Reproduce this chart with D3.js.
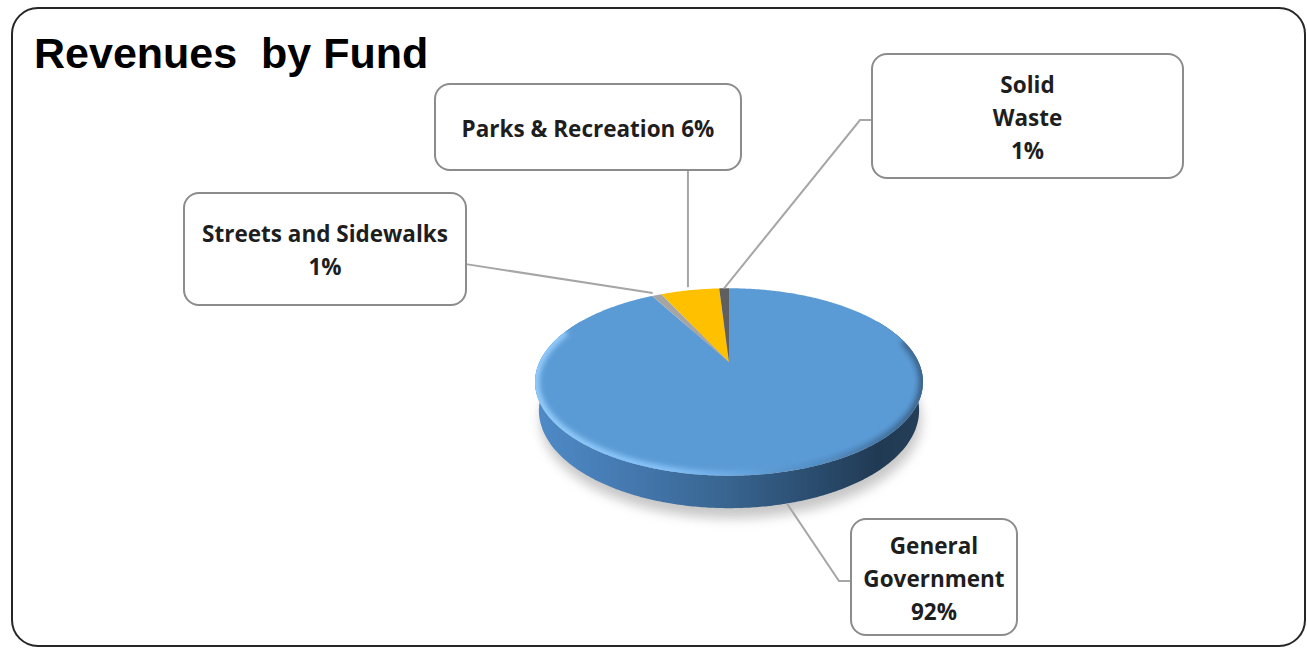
<!DOCTYPE html>
<html>
<head>
<meta charset="utf-8">
<script src="https://cdn.jsdelivr.net/npm/d3@7"></script>
<style>
  html, body { margin: 0; padding: 0; background: #ffffff; }
  svg { display: block; }
</style>
</head>
<body>
<svg id="chart" width="1307" height="648"></svg>
<script>
// Revenue shares by fund (percent)
const categories = ["General Government", "Streets and Sidewalks", "Parks & Recreation", "Solid Waste"];
const values = [92, 1, 6, 1];
const colors = ["#5B9BD5", "#A5A5A5", "#FFC000", "#5F5F5F"];
const labelLines = [
  ["General", "Government", "92%"],
  ["Streets and Sidewalks", "1%"],
  ["Parks & Recreation 6%"],
  ["Solid", "Waste", "1%"]
];
const title = "Revenues  by Fund";

// Callout boxes: [x, y, w, h] and the side of the box the leader leaves from
const boxes = [
  { x: 851, y: 519, w: 166, h: 116, side: "left" },
  { x: 184, y: 193, w: 282, h: 112, side: "right" },
  { x: 435, y: 84,  w: 306, h: 86,  side: "bottom" },
  { x: 872, y: 54,  w: 311, h: 124, side: "left" }
];

const svg = d3.select("#chart");
const defs = svg.append("defs");

// Outer chart frame
svg.append("rect")
  .attr("x", 12).attr("y", 8).attr("width", 1293).attr("height", 638)
  .attr("rx", 26).attr("ry", 26)
  .attr("fill", "#ffffff").attr("stroke", "#262626").attr("stroke-width", 2);

svg.append("text")
  .attr("x", 34).attr("y", 68)
  .style("white-space", "pre")
  .attr("font-family", "'Liberation Sans', Arial, sans-serif")
  .attr("font-weight", "bold").attr("font-size", 43)
  .attr("fill", "#000000")
  .text(title);

// ---- 3D pie projection (tilted disk with perspective) ----
const cx = 729, cy = 362, R = 189.5;
const sinT = 0.472, cosT = 0.882, D = 4.14, T = 0.17;

function proj(X, Z, h) {
  const depth = Z * cosT + h * sinT;
  const p = D / (D - depth);
  return [cx + R * X * p, cy + R * (Z * sinT - h * cosT) * p];
}
// angle measured clockwise from 12 o'clock (back of the disk)
function rim(a, h) { return proj(Math.sin(a), -Math.cos(a), h); }
function rimPoints(a0, a1, h) {
  const n = Math.max(2, Math.ceil(Math.abs(a1 - a0) / 0.01));
  return d3.range(n + 1).map(i => rim(a0 + (a1 - a0) * i / n, h));
}
const line = d3.line();

const pie = d3.pie().sort(null).value(d => d);
const arcs = pie(values);

// Filters and gradients
const blur = defs.append("filter").attr("id", "shadowBlur")
  .attr("x", "-20%").attr("y", "-20%").attr("width", "140%").attr("height", "140%");
blur.append("feGaussianBlur").attr("stdDeviation", 6);

const soft = defs.append("filter").attr("id", "softBlur")
  .attr("x", "-10%").attr("y", "-10%").attr("width", "120%").attr("height", "120%");
soft.append("feGaussianBlur").attr("stdDeviation", 2.5);

const sideGrad = defs.append("linearGradient").attr("id", "sideGrad")
  .attr("gradientUnits", "userSpaceOnUse")
  .attr("x1", cx - 195).attr("x2", cx + 195).attr("y1", 0).attr("y2", 0);
[[0, "#4F8BC8"], [0.25, "#4478AE"], [0.5, "#38648F"], [0.72, "#2A4C6E"], [0.88, "#213A54"], [1, "#263F59"]]
  .forEach(([o, c]) => sideGrad.append("stop").attr("offset", o).attr("stop-color", c));

const rimGrad = defs.append("linearGradient").attr("id", "rimGrad")
  .attr("gradientUnits", "userSpaceOnUse")
  .attr("x1", cx - 195).attr("x2", cx + 195).attr("y1", 0).attr("y2", 0);
[[0, "#9AD2FF", 0.9], [0.35, "#8CC8FF", 0.85], [0.55, "#8CC8FF", 0.2], [0.7, "#1E3550", 0.1], [1, "#1E3550", 0.55]]
  .forEach(([o, c, a]) => rimGrad.append("stop").attr("offset", o).attr("stop-color", c).attr("stop-opacity", a));

// Shadow under the pie
const bottomRim = rimPoints(0, 2 * Math.PI, -T);
svg.append("path")
  .attr("d", line(bottomRim) + "Z")
  .attr("transform", "translate(2,10)")
  .attr("fill", "#8f8f8f").attr("opacity", 0.5)
  .attr("filter", "url(#shadowBlur)");

// Side wall (front part of the disk)
const a0 = Math.PI / 3, a1 = 5 * Math.PI / 3;
const sideTop = rimPoints(a0, a1, 0);
const sideBot = rimPoints(a1, a0, -T);
svg.append("path")
  .attr("d", line(sideTop.concat(sideBot)) + "Z")
  .attr("fill", "url(#sideGrad)");

// Top face slices
const apex = proj(0, 0, 0);
const topG = svg.append("g");
topG.selectAll("path.slice")
  .data(arcs)
  .join("path")
  .attr("class", "slice")
  .attr("d", d => line([apex].concat(rimPoints(d.startAngle, d.endAngle, 0))) + "Z")
  .attr("fill", (d, i) => colors[i]);

// Bevel highlight along the front rim of the top face
const topOutline = rimPoints(0, 2 * Math.PI, 0);
defs.append("clipPath").attr("id", "topClip")
  .append("path").attr("d", line(topOutline) + "Z");
svg.append("path")
  .attr("d", line(rimPoints(Math.PI * 0.42, Math.PI * 1.62, 0)))
  .attr("fill", "none")
  .attr("stroke", "url(#rimGrad)").attr("stroke-width", 9)
  .attr("clip-path", "url(#topClip)")
  .attr("filter", "url(#softBlur)");

// ---- Callouts ----
const anchors = arcs.map((d, i) => {
  const mid = (d.startAngle + d.endAngle) / 2;
  return i === 0 ? rim(mid, -T) : rim(mid, 0);
});

const callG = svg.append("g");
boxes.forEach((b, i) => {
  const [ax, ay] = anchors[i];
  let pts;
  if (b.side === "left") {
    const sy = b.y + b.h / 2 + 4;
    pts = [[b.x, sy], [b.x - 12, sy], [ax, ay]];
  } else if (b.side === "right") {
    const sy = b.y + b.h * 0.635;
    pts = [[b.x + b.w, sy], [ax - 4, ay - 2]];
  } else {
    pts = [[ax - 2, b.y + b.h], [ax - 2, ay - 3]];
  }
  callG.append("path")
    .attr("d", line(pts))
    .attr("fill", "none").attr("stroke", "#A6A6A6").attr("stroke-width", 2);
});

boxes.forEach((b, i) => {
  callG.append("rect")
    .attr("x", b.x).attr("y", b.y).attr("width", b.w).attr("height", b.h)
    .attr("rx", 15).attr("ry", 15)
    .attr("fill", "#ffffff").attr("stroke", "#8C8C8C").attr("stroke-width", 2);
  const lines = labelLines[i];
  const lh = 33;
  const c = b.y + b.h / 2;
  const t = callG.append("text")
    .attr("text-anchor", "middle")
    .attr("font-family", "'Open Sans', Lato, sans-serif")
    .attr("font-weight", "bold").attr("font-size", 22.5)
    .attr("fill", "#1E1E1E");
  lines.forEach((s, k) => {
    t.append("tspan")
      .attr("x", b.x + b.w / 2)
      .attr("y", c + (k - (lines.length - 1) / 2) * lh + 9.5)
      .text(s);
  });
});
</script>
</body>
</html>
